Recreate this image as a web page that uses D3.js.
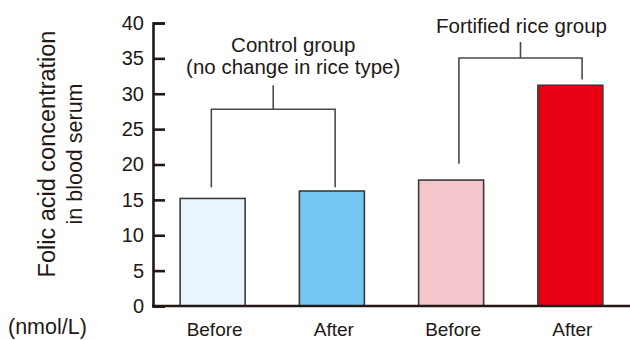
<!DOCTYPE html>
<html><head><meta charset="utf-8">
<script src="https://cdn.jsdelivr.net/npm/d3@7"></script>
<style>
html,body{margin:0;padding:0;background:#fff;}
text{font-family:"Liberation Sans",Arial,sans-serif;fill:#231815;}
</style></head>
<body><svg id="c" width="630" height="340"></svg>
<script>
// Data
const categories = ["Before","After","Before ","After "];
const xLabels = ["Before","After","Before","After"];
const values = [15.2, 16.25, 17.8, 31.2];
const colors = ["#e9f4fc","#72c8f0","#f5c5cc","#e60012"];
const yTicks = [0,5,10,15,20,25,30,35,40];
const groupLabels = [["Control group","(no change in rice type)"],["Fortified rice group"]];
// bracket levels in data units: [leftEnd, rightEnd], bar, stemTop
const bracketEnds = [[16.8,16.8],[20.1,32.0]];
const bracketBar = [27.8, 35.05];
const bracketStem = [31.2, 37.3];
const bracketBars = [[0,1],[2,3]];

const svg = d3.select("#c");
const x = d3.scaleBand().domain(categories).range([153,630]).paddingInner(0.455).paddingOuter(0.2275);
const y = d3.scaleLinear().domain([0,40]).range([306,23]);

// bars
svg.append("g").selectAll("rect").data(values).join("rect")
  .attr("x",(d,i)=>x(categories[i]))
  .attr("y",d=>y(d))
  .attr("width",x.bandwidth())
  .attr("height",d=>y(0)-y(d))
  .attr("fill",(d,i)=>colors[i])
  .attr("stroke","#3a3a3a").attr("stroke-width",1.6);

// y axis
const ya = svg.append("g").attr("transform","translate(153,0)")
  .call(d3.axisLeft(y).tickValues(yTicks).tickSizeInner(-12).tickSizeOuter(-12).tickPadding(9));
ya.select(".domain").attr("stroke","#231815").attr("stroke-width",2.6);
ya.selectAll(".tick line").attr("stroke","#231815").attr("stroke-width",2.6);
ya.selectAll(".tick text").attr("font-size",20).attr("font-family","Liberation Sans, Arial, sans-serif").attr("fill","#231815");

// x axis line
svg.append("line").attr("x1",152).attr("x2",630).attr("y1",y(0)).attr("y2",y(0))
  .attr("stroke","#231815").attr("stroke-width",2.6);

// x labels
svg.append("g").selectAll("text").data(categories).join("text")
  .attr("x",d=>x(d)+x.bandwidth()/2+2)
  .attr("y",335.5)
  .attr("text-anchor","middle").attr("font-size",19)
  .text((d,i)=>xLabels[i]);

// brackets
const anchorFrac = [[0.48,0.55],[0.62,0.68]];
bracketBars.forEach((pair,g)=>{
  const xl = x(categories[pair[0]]) + x.bandwidth()*anchorFrac[g][0];
  const xr = x(categories[pair[1]]) + x.bandwidth()*anchorFrac[g][1];
  const xm = (xl+xr)/2;
  const p = d3.path();
  p.moveTo(xl,y(bracketEnds[g][0])); p.lineTo(xl,y(bracketBar[g])); p.lineTo(xr,y(bracketBar[g])); p.lineTo(xr,y(bracketEnds[g][1]));
  p.moveTo(xm,y(bracketBar[g])); p.lineTo(xm,y(bracketStem[g]));
  svg.append("path").attr("d",p.toString()).attr("fill","none").attr("stroke","#4a4a4a").attr("stroke-width",1.6);
  const lines = groupLabels[g];
  const t = svg.append("text").attr("text-anchor","middle").attr("font-size",20.5);
  const base = g===0 ? 52 : 32.5;
  lines.forEach((l,k)=>{
    t.append("tspan").attr("x",xm+ (g===0?20:1)).attr("y",base+k*22).text(l);
  });
});

// y title
const yt = svg.append("text").attr("text-anchor","middle").attr("transform","translate(55,154) rotate(-90)");
yt.append("tspan").attr("x",0).attr("y",0).attr("font-size",23.5).text("Folic acid concentration");
yt.append("tspan").attr("x",0).attr("y",27).attr("font-size",21.5).text("in blood serum");

svg.append("text").attr("x",8).attr("y",334).attr("font-size",21.5).text("(nmol/L)");
</script></body></html>
